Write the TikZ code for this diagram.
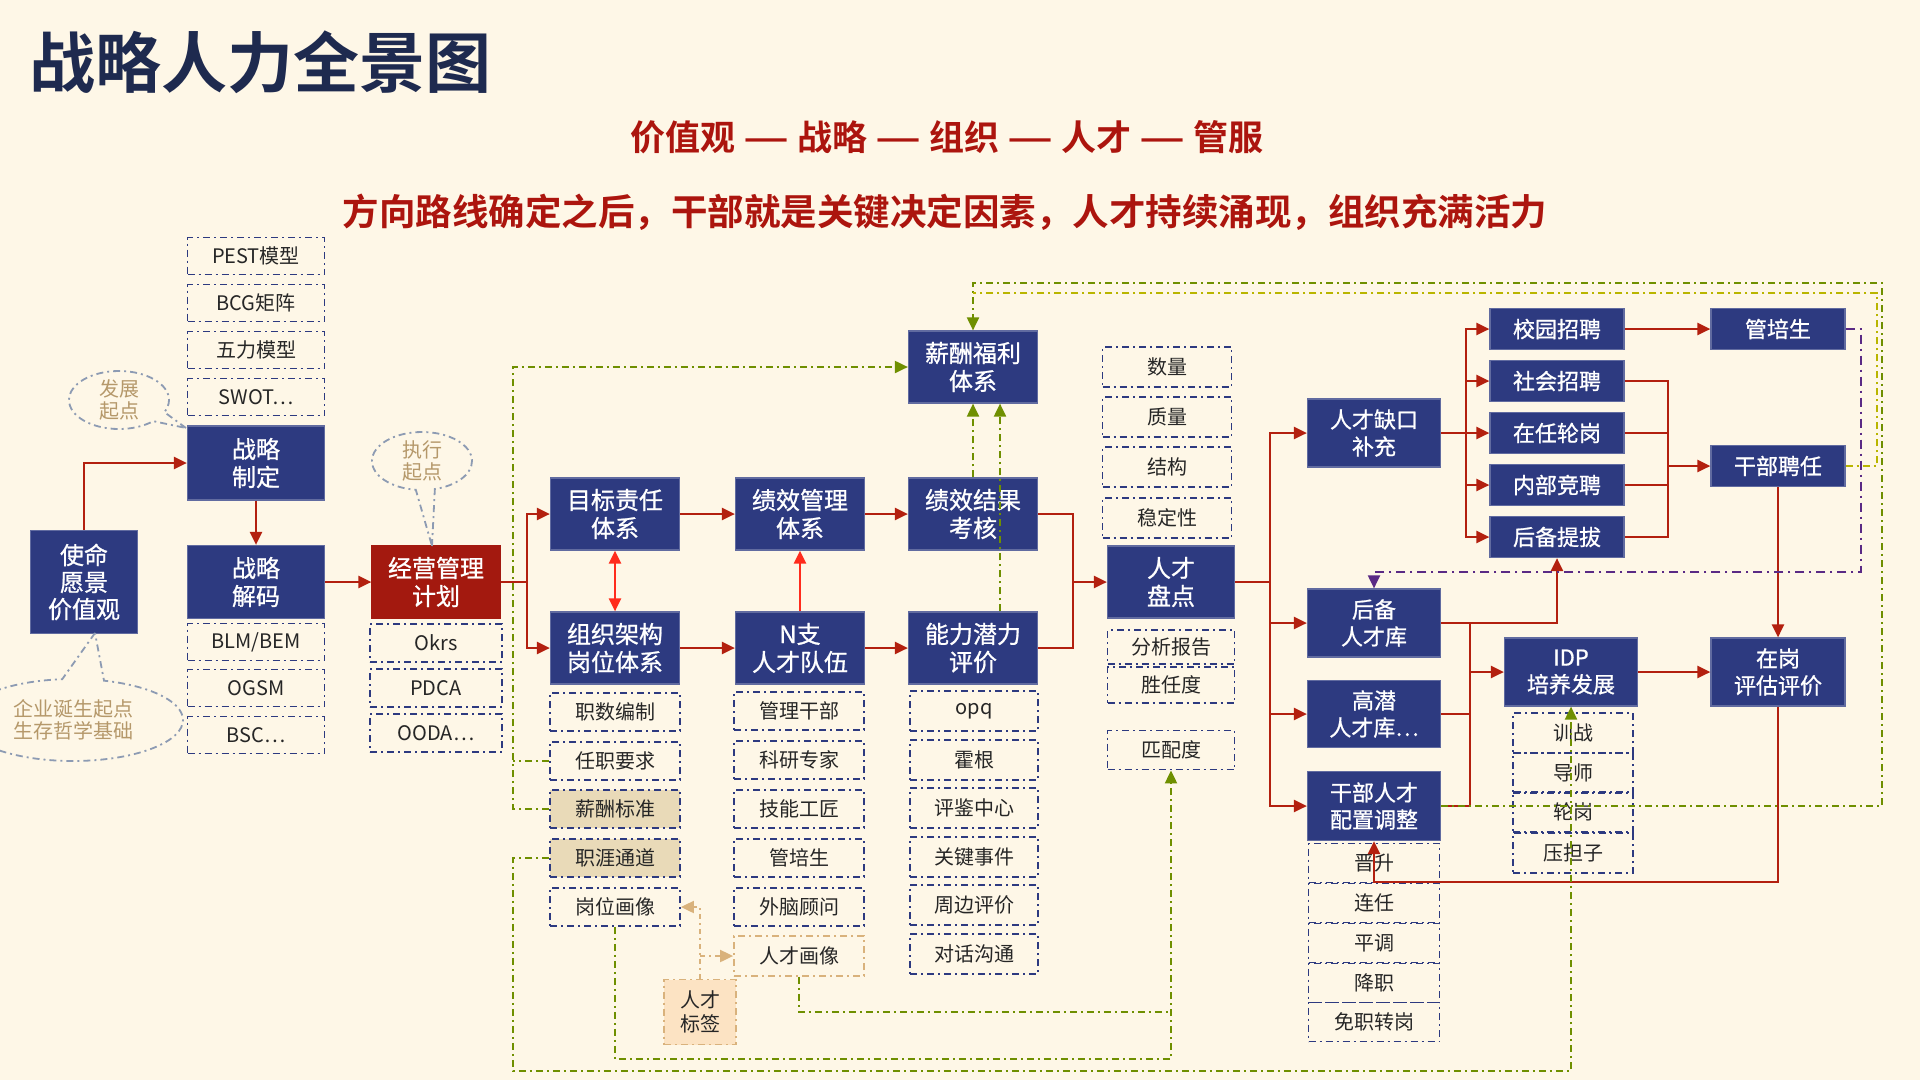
\documentclass[tikz,border=0pt]{standalone}
\usepackage{fontspec}
\setmainfont{Noto Sans CJK SC}[BoldFont={Noto Sans CJK SC Bold}]
\newfontfamily\blkfont{Noto Sans CJK SC}[FakeBold=0.9]
\usepackage{tikz}
\usetikzlibrary{arrows.meta,shapes.callouts}
\definecolor{navy}{HTML}{2D3A80}
\definecolor{deepred}{HTML}{A3190F}
\definecolor{linered}{HTML}{B3200F}
\definecolor{brightred}{HTML}{FF2B1C}
\definecolor{olive}{HTML}{6F8F00}
\definecolor{lime}{HTML}{B9B500}
\definecolor{plum}{HTML}{5A2A85}
\definecolor{tan}{HTML}{D9B27C}
\definecolor{cream}{HTML}{FEF7E7}
\definecolor{beige}{HTML}{E9DAB8}
\definecolor{peach}{HTML}{FCE3C3}
\definecolor{bubbleline}{HTML}{8D9BB3}
\definecolor{bubbletext}{HTML}{B5986A}
\definecolor{titleblue}{HTML}{1E2A4F}
\definecolor{slogan}{HTML}{AC150E}
\newcommand{\longdash}{\scalebox{1.45}[1]{—}}

\begin{document}
\begin{tikzpicture}[x=1pt,y=-1pt,>={Triangle[length=13pt,width=12pt]},
    blk/.style={fill=navy,draw=navy!75!white,line width=1.2pt,text=white,align=center,
      font=\blkfont\fontsize{24}{28}\selectfont,inner sep=0pt,minimum width=129pt,minimum height=72pt},
    rblk/.style={blk,font=\blkfont\fontsize{22}{27}\selectfont},
    sub/.style={draw=navy,line width=1.8pt,dash pattern=on 7pt off 4pt on 2pt off 4pt,
      text=black!85,font=\fontsize{20}{24}\selectfont,inner sep=0pt},
    rline/.style={draw=linered,line width=2.4pt},
    bline/.style={draw=brightred,line width=2.4pt},
    gline/.style={draw=olive,line width=2pt,dash pattern=on 7pt off 4pt on 2pt off 4pt},
    yline/.style={draw=lime,line width=2pt,dash pattern=on 7pt off 4pt on 2pt off 4pt},
    pline/.style={draw=plum,line width=2pt,dash pattern=on 9pt off 5pt on 2pt off 5pt},
    tline/.style={draw=tan,line width=2pt,dash pattern=on 5pt off 4pt on 2pt off 4pt},
    bubble/.style={ellipse callout,draw=bubbleline,line width=1.8pt,dash pattern=on 7pt off 4pt on 2pt off 4pt,
      text=bubbletext,align=center,font=\fontsize{20}{22}\selectfont,inner sep=0pt,callout pointer arc=22}]
  \fill[cream] (0,0) rectangle (1920,1080);
  \useasboundingbox (0,0) rectangle (1920,1080);

  \node[anchor=west,text=titleblue,font=\fontsize{66}{72}\selectfont\bfseries] (title) at (26,62) {战略人力全景图};
  \node[text=slogan,font=\fontsize{35}{40}\selectfont\bfseries] (motto) at (947,137) {价值观 \longdash{} 战略 \longdash{} 组织 \longdash{} 人才 \longdash{} 管服};
  \node[text=slogan,font=\fontsize{36.5}{40}\selectfont\bfseries] (thesis) at (945,212) {方向路线确定之后，干部就是关键决定因素，人才持续涌现，组织充满活力};

  \node[blk,minimum width=107pt,minimum height=103pt,font=\blkfont\fontsize{24}{27}\selectfont] (smyj) at (84,582) {使命\\愿景\\价值观};
  \node[blk,minimum width=137pt,minimum height=74pt] (zlzd) at (256,463) {战略\\制定};
  \node[blk,minimum width=137pt,minimum height=73pt] (zljm) at (256,582) {战略\\解码};
  \node[blk,fill=deepred,draw=deepred,minimum width=128pt] (jygl) at (436,582) {经营管理\\计划};

  \node[blk] (mbzr) at (615,514) {目标责任\\体系};
  \node[blk] (zzjg) at (615,648) {组织架构\\岗位体系};
  \node[blk] (jxgl) at (800,514) {绩效管理\\体系};
  \node[blk] (nzrc) at (800,648) {N支\\人才队伍};
  \node[blk] (jxjg) at (973,514) {绩效结果\\考核};
  \node[blk] (nlql) at (973,648) {能力潜力\\评价};
  \node[blk] (xcfl) at (973,367) {薪酬福利\\体系};
  \node[blk,minimum width=127pt] (rcpd) at (1171,582) {人才\\盘点};

  \node[rblk,minimum width=133pt,minimum height=68pt] (rcqk) at (1374,433) {人才缺口\\补充};
  \node[rblk,minimum width=133pt,minimum height=68pt] (hbrck) at (1374,623) {后备\\人才库};
  \node[rblk,minimum width=133pt,minimum height=67pt] (gqrck) at (1374,714) {高潜\\人才库…};
  \node[rblk,minimum width=133pt,minimum height=69pt] (gbpz) at (1374,806) {干部人才\\配置调整};
  \foreach \nm/\y/\t in {xyzp/329/校园招聘, shzp/381/社会招聘, zrlg/433/在任轮岗, nbjp/485/内部竞聘, hbtb/537/后备提拔}
    \node[rblk,minimum width=134pt,minimum height=41pt] (\nm) at (1557,\y) {\t};
  \node[rblk,minimum width=134pt,minimum height=41pt] (gps) at (1778,329) {管培生};
  \node[rblk,minimum width=134pt,minimum height=41pt] (gbpr) at (1778,466) {干部聘任};
  \node[rblk,minimum width=133pt,minimum height=68pt] (idp) at (1571,672) {IDP\\培养发展};
  \node[rblk,minimum width=134pt,minimum height=68pt] (zgpj) at (1778,672) {在岗\\评估评价};

  \foreach \nm/\y/\t in {pest/256/PEST模型, bcg/303/BCG矩阵, wlmx/350/五力模型, swot/397/SWOT…, blm/642/{BLM/BEM}, ogsm/688/OGSM, bsc/735/BSC…}
    \node[sub,minimum width=137pt,minimum height=37pt] (\nm) at (256,\y) {\t};
  \foreach \nm/\y/\t in {okrs/643/Okrs, pdca/688/PDCA, ooda/733/OODA…}
    \node[sub,minimum width=132pt,minimum height=38pt] (\nm) at (436,\y) {\t};
  \foreach \nm/\y/\t in {zsbz/712/职数编制, rzyq/761/任职要求, gwhx/907/岗位画像}
    \node[sub,minimum width=130pt,minimum height=38pt] (\nm) at (615,\y) {\t};
  \foreach \nm/\y/\t in {xcbz/809/薪酬标准, zyty/858/职涯通道}
    \node[sub,fill=beige,minimum width=130pt,minimum height=38pt] (\nm) at (615,\y) {\t};
  \foreach \nm/\y/\t in {glgb/711/管理干部, kyzj/760/科研专家, jngj/809/技能工匠, gpsb/858/管培生, wngw/907/外脑顾问}
    \node[sub,minimum width=130pt,minimum height=38pt] (\nm) at (799,\y) {\t};
  \node[sub,draw=tan,minimum width=130pt,minimum height=40pt] (rchx) at (799,956) {人才画像};
  \foreach \nm/\y/\t in {opq/711/opq, hogan/760/霍根, pjzx/808/评鉴中心, gjsj/857/关键事件, zbpj/905/周边评价, dhgt/954/对话沟通}
    \node[sub,minimum width=128pt,minimum height=40pt] (\nm) at (974,\y) {\t};
  \foreach \nm/\y/\t in {shul/367/数量, zhil/417/质量, jieg/467/结构, wdx/518/稳定性}
    \node[sub,minimum width=129pt,minimum height=40pt] (\nm) at (1167,\y) {\t};
  \node[sub,minimum width=127pt,minimum height=34pt] (fxbg) at (1171,647) {分析报告};
  \node[sub,minimum width=127pt,minimum height=36pt] (srd) at (1171,685) {胜任度};
  \node[sub,minimum width=127pt,minimum height=39pt] (ppd) at (1171,750) {匹配度};
  \foreach \nm/\y/\t in {jsh/863/晋升, lianr/903/连任, pingd/943/平调, jiangz/983/降职, mzzg/1022/免职转岗}
    \node[sub,minimum width=131pt,minimum height=39pt] (\nm) at (1374,\y) {\t};
  \foreach \nm/\y/\t in {xunz/733/训战, daos/773/导师, lung/812/轮岗, ydz/853/压担子}
    \node[sub,minimum width=120pt,minimum height=40pt] (\nm) at (1573,\y) {\t};
  \node[sub,draw=tan,fill=peach,align=center,minimum width=72pt,minimum height=65pt] (rcbq) at (700,1012) {人才\\标签};

  \node[bubble,minimum width=100pt,minimum height=58pt,callout absolute pointer={(186,428)}] (fzqd) at (119,400) {发展\\起点};
  \node[bubble,minimum width=100pt,minimum height=58pt,callout absolute pointer={(432,546)}] (zxqd) at (422,461) {执行\\起点};
  \node[bubble,minimum width=220pt,minimum height=82pt,callout absolute pointer={(95,633)}] (qyds) at (73,720) {企业诞生起点\\生存哲学基础};

  \coordinate (jsplit) at (527,582);
  \coordinate (pdjoin) at (1073,582);
  \coordinate (rsplit) at (1270,582);
  \coordinate (qsplit) at (1466,433);
  \coordinate (pjoin) at (1668,466);
  \coordinate (isplit) at (1470,672);
  \coordinate (ring) at (1374,882);
  \draw[rline,->] (smyj.north) |- (zlzd.west);
  \draw[rline,->] (zlzd) -- (zljm);
  \draw[rline,->] (zljm) -- (jygl);
  \draw[rline] (jygl.east) -- (jsplit);
  \draw[rline,->] (jsplit) |- (mbzr.west);
  \draw[rline,->] (jsplit) |- (zzjg.west);
  \draw[rline,->] (mbzr) -- (jxgl);
  \draw[rline,->] (jxgl) -- (jxjg);
  \draw[rline,->] (zzjg) -- (nzrc);
  \draw[rline,->] (nzrc) -- (nlql);
  \draw[bline,<->] (mbzr) -- (zzjg);
  \draw[bline,->] (nzrc) -- (jxgl);
  \draw[rline] (jxjg.east) -| (pdjoin) |- (nlql.east);
  \draw[rline,->] (pdjoin) -- (rcpd.west);
  \draw[rline] (rcpd.east) -- (rsplit);
  \foreach \n in {rcqk,hbrck,gqrck,gbpz}
    \draw[rline,->] (rsplit) |- (\n.west);
  \draw[rline] (rcqk.east) -- (qsplit);
  \foreach \n in {xyzp,shzp,zrlg,nbjp,hbtb}
    \draw[rline,->] (qsplit) |- (\n.west);
  \draw[rline,->] (xyzp) -- (gps);
  \foreach \n in {shzp,zrlg,nbjp,hbtb}
    \draw[rline] (\n.east) -| (pjoin);
  \draw[rline,->] (pjoin) -- (gbpr.west);
  \draw[rline,->] (gbpr) -- (zgpj);
  \draw[rline,->] (hbrck.east) -| (hbtb.south);
  \foreach \n in {hbrck,gqrck,gbpz}
    \draw[rline] (\n.east) -| (isplit);
  \draw[rline,->] (isplit) -- (idp.west);
  \draw[rline,->] (idp) -- (zgpj);
  \draw[rline,->] (zgpj.south) |- (ring) -- (gbpz.south);

  \coordinate (pturn) at (1861,572);
  \draw[pline,->] (gps.east) -| (pturn) -| (hbrck.north);

  \coordinate (gtop) at (1882,283);
  \coordinate (gside) at (1882,806);
  \coordinate (ytop) at (1877,293);
  \coordinate (yend) at (973,293);
  \coordinate (gleft) at (513,367);
  \coordinate (gbottom) at (513,1071);
  \coordinate (gloop) at (615,1059);
  \coordinate (gmid) at (1171,1012);
  \draw[gline,->] (gbpz.east) -- (gside) -- (gtop) -| (xcfl.north);
  \draw[yline] (gbpr.east) -| (ytop) -- (yend);
  \draw[gline,->] (jxjg.north) -- (xcfl.south);
  \draw[gline,->] ([xshift=27pt]nlql.north) -- ([xshift=27pt]xcfl.south);
  \draw[gline,->] (xcbz.west) -| (gleft) -- (xcfl.west);
  \draw[gline] (rzyq.west) -- (rzyq.west -| gleft);
  \draw[gline,->] (zyty.west) -| (gbottom) -| (idp.south);
  \draw[gline,->] (gwhx.south) -- (gloop) -| (ppd.south);
  \draw[gline] (rchx.south) |- (gmid);

  \draw[tline,->] (rcbq.north) |- (gwhx.east);
  \draw[tline,->] (rcbq.north |- rchx.west) -- (rchx.west);
\end{tikzpicture}
\end{document}
